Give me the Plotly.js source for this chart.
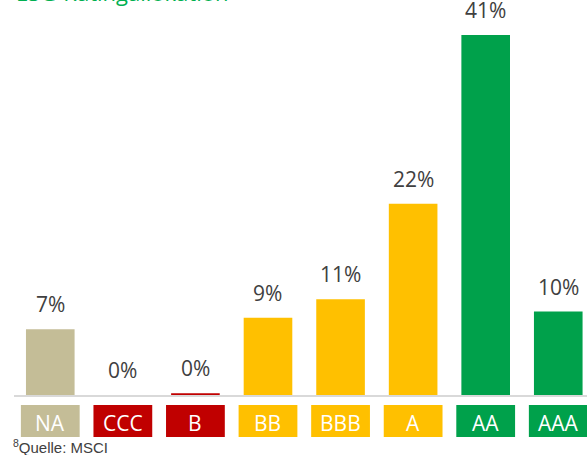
<!DOCTYPE html>
<html><head><meta charset="utf-8">
<script src="https://cdn.plot.ly/plotly-3.0.1.min.js"></script>
<style>html,body{margin:0;padding:0;background:#fff}</style>
</head><body><div id="chart" style="width:587px;height:455px"></div>
<script>
const categories = ["NA","CCC","B","BB","BBB","A","AA","AAA"];
const shares = [7.5, 0, 0.2, 8.8, 10.9, 21.8, 41, 9.5];
const shareLabels = ["7%","0%","0%","9%","11%","22%","41%","10%"];
const barColors = ["#c4bd97","#c00000","#c00000","#ffc000","#ffc000","#ffc000","#00a14b","#00a14b"];
const boxValues = [1,1,1,1,1,1,1,1];

const font = "Open Sans, Lato, sans-serif";
const traces = [
  {type:"bar", x:categories, y:shares, marker:{color:barColors}, width:0.67, hoverinfo:"none", xaxis:"x", yaxis:"y"},
  {type:"bar", x:categories, y:boxValues, marker:{color:barColors}, width:0.81,
   hoverinfo:"none", xaxis:"x", yaxis:"y2"}
];
const annotations = categories.map((c,i)=>({x:c, y:shares[i], xref:"x", yref:"y", text:shareLabels[i],
  showarrow:false, yanchor:"middle", yshift:25, font:{family:font, size:21, color:"#404040"}}));
categories.forEach(c=>annotations.push({x:c, y:0, xref:"x", yref:"y2", text:c, showarrow:false,
  yanchor:"bottom", yshift:-2, font:{family:font, size:21, color:"#ffffff"}}));
annotations.push({x:0, y:1, xref:"paper", yref:"paper", xanchor:"left", yanchor:"bottom", yshift:-9,
  text:"ESG-Ratingallokation", showarrow:false, font:{family:font, size:22, color:"#00b050"}});
annotations.push({x:-0.006, y:0, xref:"paper", yref:"paper", xanchor:"left", yanchor:"bottom", yshift:-3,
  text:"<sup>8</sup>Quelle: MSCI", showarrow:false, font:{family:"Liberation Sans Narrow, Arial Narrow, sans-serif", size:15, color:"#404040"}});

const layout = {
  width:587, height:455, margin:{l:14, r:0, t:0, b:0},
  paper_bgcolor:"#fff", plot_bgcolor:"#fff", showlegend:false,
  xaxis:{range:[-0.5,7.396], showticklabels:false, showgrid:false, zeroline:false, showline:true,
    linecolor:"#d9d9d9", linewidth:2, ticks:"", anchor:"y"},
  yaxis:{domain:[0.1319,1], range:[0,45], visible:false, showgrid:false, zeroline:false},
  yaxis2:{domain:[0.0396,0.110], range:[0,1], visible:false, showgrid:false, zeroline:false},
  annotations:annotations
};
Plotly.newPlot("chart", traces, layout, {displayModeBar:false, staticPlot:true});
</script></body></html>
